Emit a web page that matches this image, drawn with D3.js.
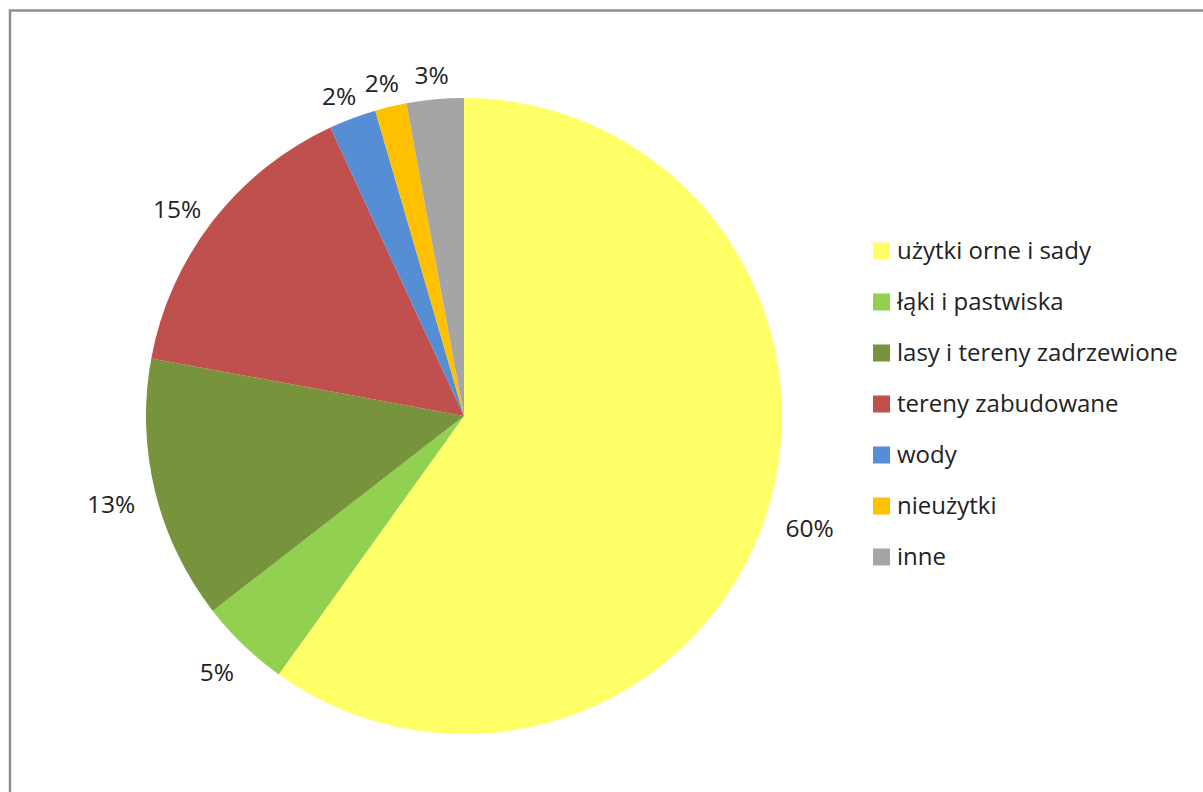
<!DOCTYPE html>
<html>
<head>
<meta charset="utf-8">
<script src="https://cdn.jsdelivr.net/npm/d3@7"></script>
<style>
  html, body { margin: 0; padding: 0; background: #fff; }
  svg { display: block; }
  text { font-family: "Open Sans", "Noto Sans", sans-serif; fill: #222; }
</style>
</head>
<body>
<svg id="chart" width="1203" height="792"></svg>
<script>
const categories = ["użytki orne i sady", "łąki i pastwiska", "lasy i tereny zadrzewione",
  "tereny zabudowane", "wody", "nieużytki", "inne"];
const values = [59.9, 4.6, 13.4, 15.2, 2.4, 1.6, 2.9];
const colors = ["#FFFF66", "#92D050", "#77933C", "#C0504D", "#558ED5", "#FFC000", "#A5A5A5"];

const W = 1203, H = 792;
const cx = 464, cy = 416, R = 318;
const svg = d3.select("#chart");

// frame
svg.append("rect")
  .attr("x", 10).attr("y", 10.5)
  .attr("width", W + 20).attr("height", H + 20)
  .attr("fill", "#fff").attr("stroke", "#8e8e8e").attr("stroke-width", 2.5);

const data = categories.map((c, i) => ({ name: c, value: values[i], color: colors[i] }));
const total = d3.sum(values);
const pie = d3.pie().value(d => d.value).sort(null);
const arcs = pie(data);
const arc = d3.arc().innerRadius(0).outerRadius(R);

const g = svg.append("g").attr("transform", `translate(${cx},${cy})`);
g.selectAll("path").data(arcs).join("path")
  .attr("d", arc)
  .attr("fill", d => d.data.color);

// labels (outside end)
const fmt = d3.format(".0%");
const gap = 21;
g.selectAll("text.lbl").data(arcs).join("text")
  .attr("class", "lbl")
  .attr("font-size", 24.5)
  .attr("text-anchor", "middle")
  .text(d => fmt(d.data.value / total))
  .each(function(d) {
    const bb = this.getBBox();
    const w = bb.width, h = 17.5;
    const a = (d.startAngle + d.endAngle) / 2;
    const ux = Math.sin(a), uy = -Math.cos(a);
    const px = ux * (R + gap), py = uy * (R + gap);
    const lx = px + ux * w / 2;
    const ly = py + uy * h / 2 + 6;
    d3.select(this).attr("x", lx).attr("y", ly + h / 2);
  });

// legend
const leg = svg.append("g");
const rowY = d3.scalePoint().domain(categories).range([251, 251 + 51 * 6]);
const items = leg.selectAll("g").data(data).join("g")
  .attr("transform", d => `translate(873,${rowY(d.name)})`);
items.append("rect")
  .attr("x", 0).attr("y", -8.5).attr("width", 17).attr("height", 17)
  .attr("fill", d => d.color);
items.append("text")
  .attr("x", 24).attr("y", 8)
  .attr("font-size", 24)
  .text(d => d.name);
</script>
</body>
</html>
